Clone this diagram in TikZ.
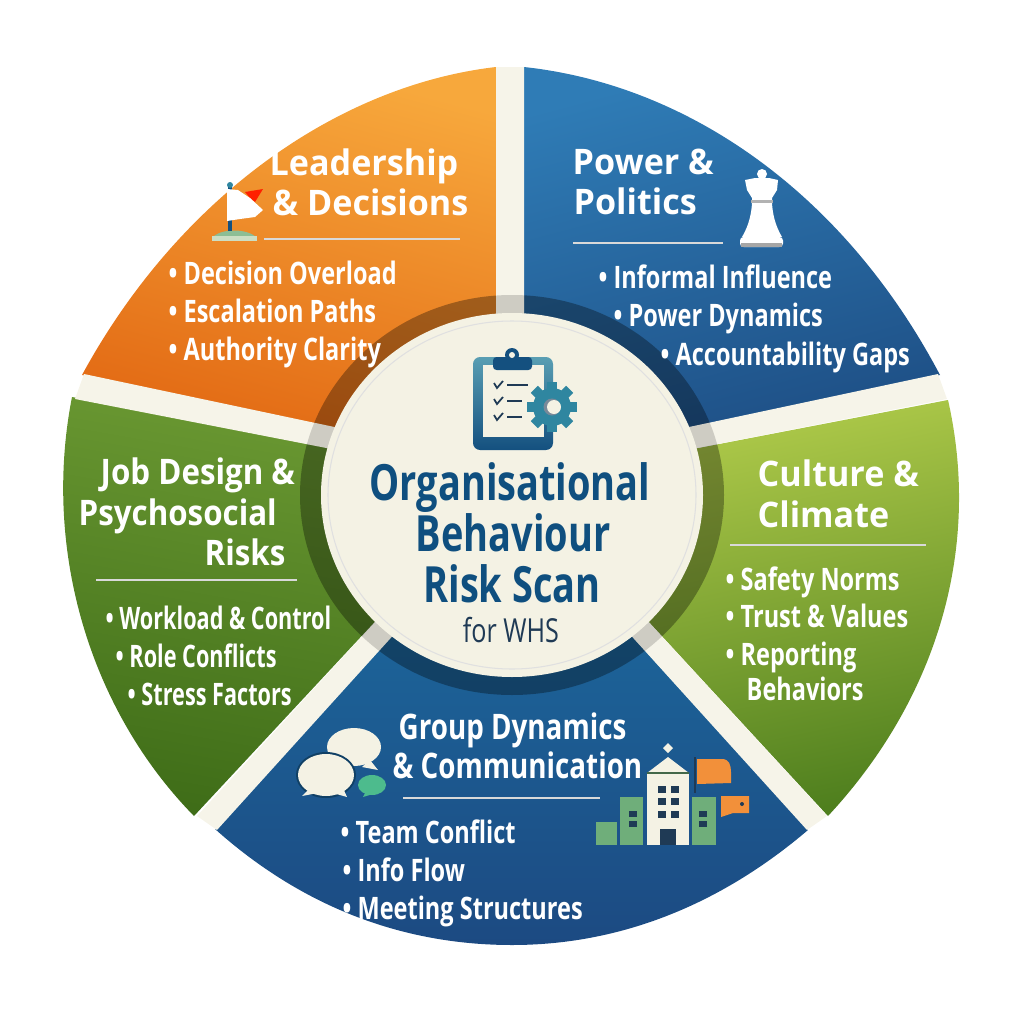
\documentclass[tikz,border=0pt]{standalone}
\usepackage{fontspec}
\setmainfont[FakeStretch=0.76]{Open Sans}
\newfontfamily\jobitemfont[FakeStretch=0.70]{Open Sans}
\newfontfamily\headfont[FakeStretch=0.97]{Open Sans}
\newfontfamily\jobheadfont[FakeStretch=0.89]{Open Sans}
\newfontfamily\grpheadfont[FakeStretch=0.79]{Open Sans}
\definecolor{OrgBlue}{HTML}{0F4F7F}
\definecolor{DiscCream}{HTML}{F4F2E4}
\definecolor{GapCream}{HTML}{F6F4E9}
\definecolor{IconTeal}{HTML}{2F86A0}
\definecolor{IconNavy}{HTML}{14507F}
\definecolor{IconOrange}{HTML}{F2903A}
\definecolor{IconGreen}{HTML}{6FAE7A}
\definecolor{IconDark}{HTML}{1F3A55}
\definecolor{LeadTop}{HTML}{F7A83C}
\definecolor{LeadLow}{HTML}{E0620F}
\definecolor{PowTop}{HTML}{2F7CB6}
\definecolor{PowLow}{HTML}{1C4A80}
\definecolor{CulTop}{HTML}{B4CE4C}
\definecolor{CulLow}{HTML}{4F7F1E}
\definecolor{JobTop}{HTML}{6C9A33}
\definecolor{JobLow}{HTML}{3F6D18}
\definecolor{GrpTop}{HTML}{1C6FA3}
\definecolor{GrpLow}{HTML}{1C4A82}
\newcommand{\gapstrips}{
  (496,67) -- (524,67) -- (524,320) -- (496,320) -- cycle
  (938,374) -- (947,399) -- (600,467) -- (600,446) -- cycle
  (827,816) -- (807,830) -- (560,557) -- (600,569) -- cycle
  (197,816) -- (217,830) -- (464,557) -- (424,569) -- cycle
  (84,374) -- (75,399) -- (424,467) -- (424,446) -- cycle
}
\tikzset{
  headtext/.style={anchor=mid west, inner sep=0pt, yshift=-1.1pt, text=white, font=\headfont\fontsize{10}{10}\selectfont\bfseries},
  jobhead/.style={headtext, font=\jobheadfont\fontsize{10}{10}\selectfont\bfseries},
  grphead/.style={headtext, font=\grpheadfont\fontsize{10}{10}\selectfont\bfseries},
  itemtext/.style={anchor=mid west, inner sep=0pt, yshift=-0.6pt, text=white, font=\fontsize{8.8}{10}\selectfont\bfseries},
  jobitem/.style={itemtext, font=\jobitemfont\fontsize{8.8}{10}\selectfont\bfseries},
  titletext/.style={anchor=mid, yshift=-1.5pt, text=OrgBlue, font=\fontsize{14.2}{14}\selectfont\bfseries},
  rulerline/.style={white!85!black, line width=0.35pt},
}
\begin{document}
\begin{tikzpicture}[x=0.01cm, y=-0.01cm]
  \useasboundingbox (0,0) rectangle (1024,1024);
  % --- Wedges ---
  \shade[top color=LeadTop, bottom color=LeadLow, shading angle=-15]
    (496,67) .. controls (340,85) and (180,195) .. (82,375) -- (424,447) -- (512,490) -- (496,300) -- cycle;
  \shade[top color=PowTop, bottom color=PowLow, shading angle=15]
    (524,67) .. controls (690,85) and (845,195) .. (940,375) -- (600,446) -- (512,490) -- (524,300) -- cycle;
  \shade[top color=CulTop, bottom color=CulLow, shading angle=12]
    (948,400) .. controls (982,550) and (936,700) .. (828,816) -- (600,569) -- (512,490) -- (600,467) -- cycle;
  \shade[top color=JobTop, bottom color=JobLow, shading angle=-10]
    (72,397) .. controls (42,550) and (90,710) .. (194,816) -- (424,569) -- (512,490) -- (424,466) -- cycle;
  \shade[top color=GrpTop, bottom color=GrpLow]
    (215,829) .. controls (300,905) and (400,945) .. (512,945) .. controls (620,945) and (720,905) .. (808,830) -- (560,557) -- (512,490) -- (464,557) -- cycle;
  % --- Ring round the disc ---
  \fill[black, opacity=0.32] (512,495) ellipse [x radius=212, y radius=200];
  % --- Gaps ---
  \fill[GapCream] \gapstrips;
  \begin{scope}
    \clip \gapstrips;
    \fill[black, opacity=0.16] (512,495) ellipse [x radius=212, y radius=200];
  \end{scope}
  % --- Disc ---
  \fill[DiscCream] (512,495) ellipse [x radius=191, y radius=182];
  \draw[black!12, line width=0.3pt] (512,495) ellipse [x radius=184, y radius=174];
  % --- Panel: Leadership ---
  \node[headtext] (leadA) at (269,162) {Leadership};
  \node[headtext] (leadB) at (272,202) {\& Decisions};
  \draw[rulerline] (264,239) -- (460,239);
  \node[itemtext] (leadI) at (168,273) {• Decision Overload};
  \node[itemtext] (leadJ) at (168,311) {• Escalation Paths};
  \node[itemtext] (leadK) at (168,349) {• Authority Clarity};
  % flag
  \fill[IconGreen!80!white] (212,238) .. controls (220,228) and (248,228) .. (257,238) -- cycle;
  \fill[DiscCream!70!IconGreen] (212,236) rectangle (257,241);
  \fill[IconNavy] (228,186) rectangle (232,231);
  \fill[IconTeal] (230,185) circle (3);
  \fill[red!75!orange] (245,192) -- (263,189) -- (255,202) -- (250,198) -- cycle;
  \fill[white] (227,189) -- (238,190) -- (250,198) -- (263,210) -- (255,217) -- (240,219) -- (227,221) -- cycle;
  % --- Panel: Power ---
  \node[headtext] (powA) at (572,161) {Power \&};
  \node[headtext] (powB) at (573,201) {Politics};
  \draw[rulerline] (573,243) -- (723,243);
  \node[itemtext] (powI) at (598,277) {• Informal Influence};
  \node[itemtext] (powJ) at (613,315) {• Power Dynamics};
  \node[itemtext] (powK) at (660,354) {• Accountability Gaps};
  % king
  \fill[white] (762,174) circle (5);
  \fill[white] (745,180) -- (755,178) -- (769,178) -- (778,180) -- (777,190) -- (772,198) -- (772,203) .. controls (773,220) and (778,230) .. (782,237) -- (742,237) .. controls (746,230) and (751,220) .. (752,203) -- (752,198) -- (747,190) -- cycle;
  \fill[black!30] (751,200) rectangle (773,203);
  \fill[white, rounded corners=1pt] (740,237) rectangle (783,247);
  \fill[black!35] (741,243) rectangle (782,247);
  % --- Panel: Culture ---
  \node[headtext] (culA) at (757,473) {Culture \&};
  \node[headtext] (culB) at (757,514) {Climate};
  \draw[rulerline] (730,545) -- (926,545);
  \node[itemtext] (culI) at (725,579) {• Safety Norms};
  \node[itemtext] (culJ) at (725,616) {• Trust \& Values};
  \node[itemtext] (culK) at (725,654) {• Reporting};
  \node[itemtext] (culL) at (746,689) {Behaviors};
  % --- Panel: Job design ---
  \node[jobhead] (jobA) at (100,471) {Job Design \&};
  \node[jobhead] (jobB) at (78,512) {Psychosocial};
  \node[jobhead] (jobC) at (204,552) {Risks};
  \draw[rulerline] (96,580) -- (297,580);
  \node[jobitem] (jobI) at (105,618) {• Workload \& Control};
  \node[jobitem] (jobJ) at (115,656) {• Role Conflicts};
  \node[jobitem] (jobK) at (127,694) {• Stress Factors};
  % --- Panel: Group ---
  \node[grphead] (grpA) at (398,726) {Group Dynamics};
  \node[grphead] (grpB) at (392,765) {\& Communication};
  \draw[rulerline] (403,798) -- (600,798);
  \node[itemtext] (grpI) at (340,832) {• Team Conflict};
  \node[itemtext] (grpJ) at (342,870) {• Info Flow};
  \node[itemtext] (grpK) at (342,908) {• Meeting Structures};
  % bubbles
  \fill[DiscCream] (354,747) ellipse [x radius=27, y radius=19];
  \fill[DiscCream] (370,760) -- (378,770) -- (362,767) -- cycle;
  \fill[IconNavy!80!black] (326,775) ellipse [x radius=30, y radius=23];
  \fill[DiscCream] (326,775) ellipse [x radius=28, y radius=21];
  \fill[DiscCream] (310,788) -- (302,796) -- (318,793) -- cycle;
  \fill[DiscCream] (333,793) -- (347,797) -- (343,788) -- cycle;
  \fill[IconTeal!70!green!80!white] (372,785) ellipse [x radius=14, y radius=10];
  \fill[IconTeal!70!green!80!white] (365,793) -- (363,797) -- (373,794) -- cycle;
  % building
  \fill[IconGreen] (596,822) rectangle (617,845);
  \fill[IconGreen] (620,797) rectangle (643,845);
  \fill[IconGreen] (692,797) rectangle (716,845);
  \foreach \wy in {811,821} {
    \fill[IconDark] (629,\wy) rectangle (637,\wy+6);
    \fill[IconDark] (699,\wy) rectangle (707,\wy+6);
  }
  \fill[DiscCream] (647,773) rectangle (689,845);
  \fill[DiscCream] (647,773) -- (668,757) -- (689,773) -- cycle;
  \fill[DiscCream] (668,743) -- (673,748) -- (668,753) -- (663,748) -- cycle;
  \draw[IconGreen!60!black, line width=0.4pt] (647,773) -- (689,773);
  \foreach \wy in {786,798,811} {
    \fill[IconDark] (658,\wy) rectangle (666,\wy+7);
    \fill[IconDark] (671,\wy) rectangle (679,\wy+7);
  }
  \fill[IconDark] (660,829) rectangle (676,845);
  \draw[IconDark, line width=0.6pt] (695,757) -- (695,793);
  \fill[IconOrange] (697,759) -- (722,759) .. controls (729,759) and (731,765) .. (731,772) -- (731,783) -- (697,784) -- cycle;
  \fill[IconOrange] (721,796) -- (749,796) -- (749,813) -- (733,813) -- (721,817) -- cycle;
  \fill[IconDark] (742,804) circle (2);
  % --- Centre ---
  \node[titletext] (orgA) at (510,486) {Organisational};
  \node[titletext] (orgB) at (513,537) {Behaviour};
  \node[titletext] (orgC) at (512,588) {Risk Scan};
  \node[anchor=mid, yshift=-0.3pt, text=IconDark, font=\fontsize{9.4}{10}\selectfont] (orgD) at (511,632) {for WHS};
  % clipboard
  \shade[top color=IconTeal!80!white, bottom color=IconNavy, rounded corners=2pt] (473,357) rectangle (553,450);
  \fill[DiscCream] (483,365) rectangle (544,437);
  \fill[IconNavy, rounded corners=1pt] (493,357) rectangle (532,370);
  \fill[IconNavy] (512,355) circle (7);
  \fill[DiscCream] (512,355) circle (3);
  \foreach \cy/\lx in {385/528,401/522,417/522} {
    \draw[IconDark, line width=0.5pt] (494,\cy-2) -- (497,\cy+3) -- (503,\cy-4);
    \draw[IconDark, line width=0.7pt] (507,\cy) -- (\lx,\cy);
  }
  % gear
  \foreach \ga in {0,45,...,315} {
    \fill[IconTeal, rotate around={\ga:(552,407)}] (547,382) rectangle (557,395);
  }
  \fill[IconTeal] (552,407) circle (19);
  \fill[IconDark!60] (552,407) circle (8.5);
  \fill[DiscCream] (554,407) circle (7);
\end{tikzpicture}
\end{document}
